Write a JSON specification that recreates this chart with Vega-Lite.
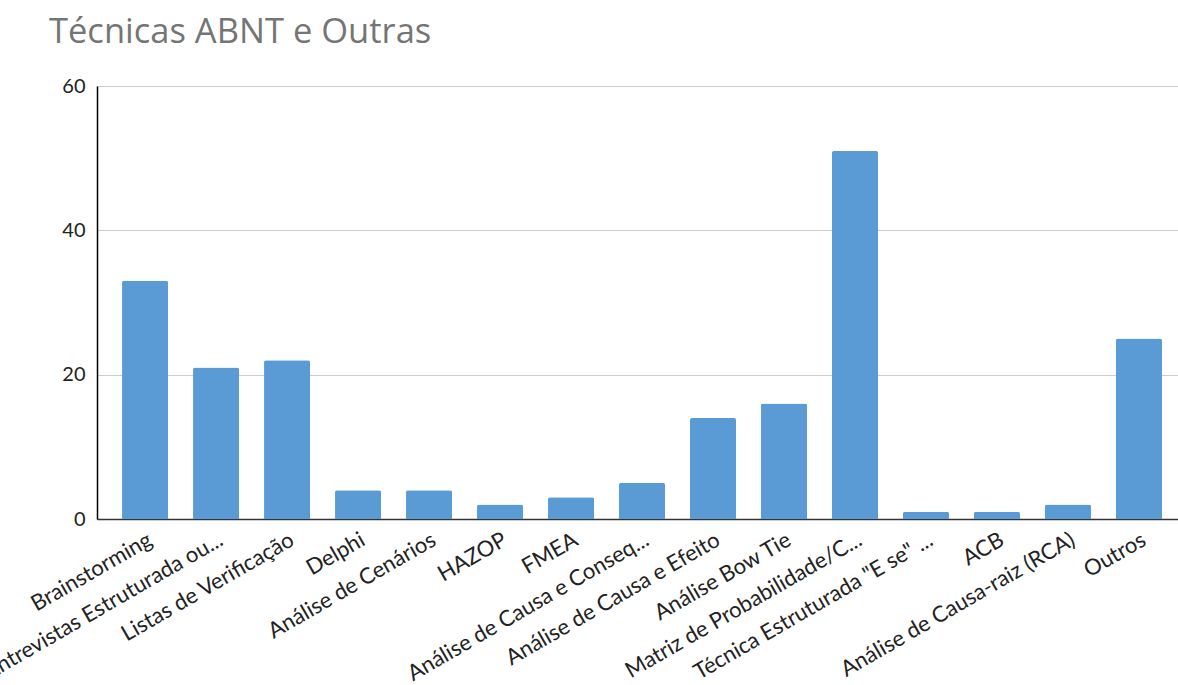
{
  "$schema": "https://vega.github.io/schema/vega-lite/v6.json",
  "autosize": {"type": "none"},
  "padding": {"left": 97, "top": 86, "right": 0, "bottom": 166},
  "width": 1081,
  "height": 433,
  "background": "white",
  "title": {
    "text": "Técnicas ABNT e Outras",
    "anchor": "start",
    "frame": "group",
    "dx": -48,
    "offset": 26,
    "font": "Open Sans",
    "fontSize": 34.5,
    "fontWeight": "normal",
    "color": "#757575"
  },
  "data": {
    "values": [
      {"tecnica": "Brainstorming", "valor": 33},
      {"tecnica": "Entrevistas Estruturada ou...", "valor": 21},
      {"tecnica": "Listas de Verificação", "valor": 22},
      {"tecnica": "Delphi", "valor": 4},
      {"tecnica": "Análise de Cenários", "valor": 4},
      {"tecnica": "HAZOP", "valor": 2},
      {"tecnica": "FMEA", "valor": 3},
      {"tecnica": "Análise de Causa e Conseq...", "valor": 5},
      {"tecnica": "Análise de Causa e Efeito", "valor": 14},
      {"tecnica": "Análise Bow Tie", "valor": 16},
      {"tecnica": "Matriz de Probabilidade/C...", "valor": 51},
      {"tecnica": "Técnica Estruturada \"E se\" ...", "valor": 1},
      {"tecnica": "ACB", "valor": 1},
      {"tecnica": "Análise de Causa-raiz (RCA)", "valor": 2},
      {"tecnica": "Outros", "valor": 25}
    ]
  },
  "mark": {"type": "bar", "color": "#5b9bd5", "cornerRadiusTopLeft": 2, "cornerRadiusTopRight": 2},
  "encoding": {
    "x": {
      "field": "tecnica",
      "type": "nominal",
      "sort": null,
      "scale": {"paddingInner": 0.352, "paddingOuter": 0.289, "align": 0.61},
      "axis": {
        "title": null,
        "labelAngle": -30,
        "labelAlign": "right",
        "labelBaseline": "top",
        "labelPadding": 10,
        "labelFont": "Lato",
        "labelFontSize": 22,
        "labelColor": "#222222",
        "labelLimit": 0,
        "labelOverlap": false,
        "ticks": false,
        "domainColor": "#333333",
        "domainWidth": 1.5
      }
    },
    "y": {
      "field": "valor",
      "type": "quantitative",
      "scale": {"domain": [0, 60], "nice": false},
      "axis": {
        "title": null,
        "values": [0, 20, 40, 60],
        "labelFont": "Lato",
        "labelFontSize": 20,
        "labelColor": "#222222",
        "labelPadding": 12,
        "ticks": false,
        "domainColor": "#000000",
        "domainWidth": 1.5,
        "gridColor": "#cccccc",
        "gridWidth": 1.2
      }
    }
  },
  "config": {"view": {"stroke": null}}
}
